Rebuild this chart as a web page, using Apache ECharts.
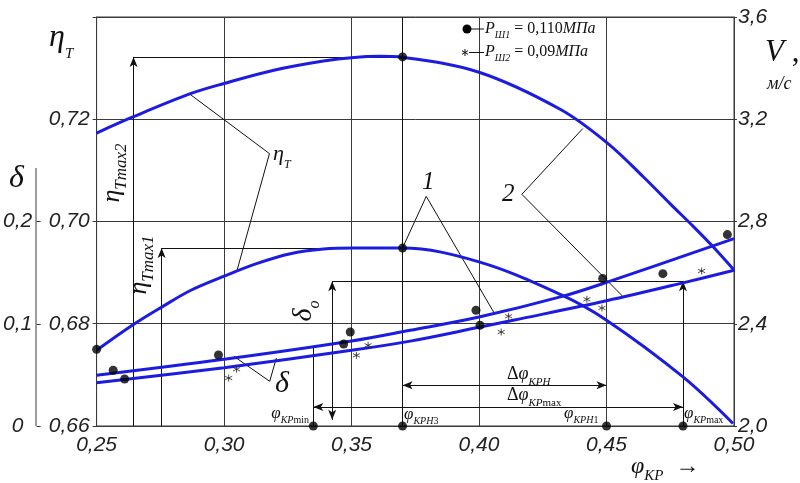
<!DOCTYPE html>
<html>
<head>
<meta charset="utf-8">
<script src="https://cdn.jsdelivr.net/npm/echarts@6/dist/echarts.min.js"></script>
<style>
  html, body { margin: 0; background: #fff; }
  #chart { width: 800px; height: 483px; }
</style>
</head>
<body>
<div id="chart"></div>
<script>
// оси
const phiMin = 0.25, phiMax = 0.50, phiStep = 0.05
const etaMin = 0.66, etaMax = 0.74, etaStep = 0.02
const vMin = 2.0, vMax = 3.6, vStep = 0.4
const dMin = 0, dMax = 0.4, dStep = 0.1
const dTicks = [0, 0.1, 0.2]

// КПД η_T (φ_KP, η)
const etaT2 = [[0.25, 0.7173], [0.264, 0.7204], [0.2868, 0.7250], [0.30, 0.7270], [0.3195, 0.7296],
  [0.339, 0.7314], [0.351, 0.7321], [0.361, 0.7323], [0.37, 0.7321], [0.40, 0.7292], [0.432, 0.7219],
  [0.4507, 0.7152], [0.4645, 0.7087], [0.4749, 0.7035], [0.4841, 0.6990], [0.4919, 0.6950], [0.50, 0.6905]]
const etaT1 = [[0.25, 0.6748], [0.264, 0.6797], [0.2757, 0.6833], [0.2868, 0.6865], [0.30, 0.6893],
  [0.313, 0.6918], [0.326, 0.6937], [0.339, 0.6946], [0.351, 0.6948], [0.361, 0.6948], [0.37, 0.6948],
  [0.40, 0.6921], [0.4325, 0.6856], [0.45, 0.6807], [0.48, 0.6696], [0.4996, 0.6605]]
// δ (φ_KP, δ)
const delta1 = [[0.25, 0.0496], [0.30, 0.0652], [0.35, 0.0831], [0.373, 0.0936], [0.40, 0.1066],
  [0.433, 0.1270], [0.45, 0.1405], [0.50, 0.1833]]
const delta2 = [[0.25, 0.0422], [0.30, 0.0570], [0.35, 0.0740], [0.373, 0.0830], [0.40, 0.0965],
  [0.4134, 0.1034], [0.45, 0.1225], [0.48, 0.1400], [0.50, 0.1523]]

// опытные точки: P_Ш1 (●) и P_Ш2 (*)
const dotsEta = [[0.25, 0.6750], [0.37, 0.7322], [0.37, 0.6948]]
const dotsDelta = [[0.2565, 0.0545], [0.2610, 0.0460], [0.2978, 0.0694], [0.3469, 0.0802],
  [0.3495, 0.0919], [0.3988, 0.1132], [0.4004, 0.0985], [0.4485, 0.1442], [0.4721, 0.1490], [0.4974, 0.1872]]
const starsDelta = [[0.3018, 0.0469], [0.3049, 0.0555], [0.3519, 0.0691], [0.3565, 0.0789],
  [0.4087, 0.0919], [0.4116, 0.1073], [0.4423, 0.1239], [0.4482, 0.1154], [0.4873, 0.1516]]

// характерные значения
const phiKPmin = 0.335, phiKPH3 = 0.37, phiKPH1 = 0.45, phiKPmax = 0.48
const etaTmax1 = 0.6948, etaTmax2 = 0.7322, delta0 = 0.1415
const dotsPhi = [[phiKPmin, 0], [phiKPH3, 0], [phiKPH1, 0], [phiKPmax, 0]]

// выноски (φ_KP, δ)
const leaderEta = [[0.2868, 0.3241], [0.3178, 0.2664], [0.3051, 0.1523]]
const leader1 = [[0.37, 0.1741], [0.3793, 0.2246], [0.4057, 0.1115]]
const leader2 = [[0.4407, 0.2909], [0.4168, 0.2266], [0.4566, 0.1262]]
const leaderDelta = [[0.3038, 0.0682], [0.3179, 0.0437], [0.3205, 0.0665]]

const toD = e => (e - etaMin) / (etaMax - etaMin) * (dMax - dMin)
const comma = d => v => v.toFixed(d).replace('.', ',')

const serif = "'Liberation Serif','DejaVu Serif',serif"
const ink = '#111'
const gridColor = '#3a3a3a'
const blue = '#1c1ce0'

const axisFont = { fontFamily: 'Liberation Sans', fontStyle: 'italic', fontSize: 21, color: '#222' }

function seg(a, b, s1, s2) {
  return [{ coord: a, symbol: s1 || 'none' }, { coord: b, symbol: s2 || 'none' }]
}

function leader(data) {
  return {
    type: 'line', yAxisIndex: 2, data: data, symbol: 'none', silent: true, z: 3,
    lineStyle: { color: ink, width: 1 }, animation: false
  }
}

function curve(name, yIdx, data) {
  return {
    name: name, type: 'line', yAxisIndex: yIdx, data: data, symbol: 'none', smooth: 0.35,
    lineStyle: { color: blue, width: 3 }, z: 5
  }
}

// подписи с индексами (rich text)
function rt(pieces, ms, ss, drop) {
  const base = { fontFamily: serif, fill: ink, verticalAlign: 'bottom' }
  const rich = {
    m: Object.assign({}, base, { fontStyle: 'italic', fontSize: ms, lineHeight: ms, padding: [0, 0, drop, 0] }),
    u: Object.assign({}, base, { fontSize: ms, lineHeight: ms, padding: [0, 0, drop, 0] }),
    s: Object.assign({}, base, { fontStyle: 'italic', fontSize: ss, lineHeight: ss }),
    t: Object.assign({}, base, { fontSize: ss, lineHeight: ss })
  }
  return { text: pieces.map(p => '{' + p[1] + '|' + p[0] + '}').join(''), rich: rich }
}
function label(x, baseline, pieces, ms, ss, drop, align) {
  const r = rt(pieces, ms, ss, drop)
  return {
    type: 'text', x: x, y: baseline + drop + 0.2 * ms, silent: true, z: 100,
    style: { text: r.text, rich: r.rich, align: align || 'left', textAlign: align || 'left',
      verticalAlign: 'bottom', textVerticalAlign: 'bottom' }
  }
}
function vlabel(cx, cy, pieces, ms, ss, drop) {
  const r = rt(pieces, ms, ss, drop)
  return {
    type: 'text', x: cx, y: cy, rotation: Math.PI / 2, silent: true, z: 100,
    style: { text: r.text, rich: r.rich, align: 'center', textAlign: 'center',
      verticalAlign: 'middle', textVerticalAlign: 'middle' }
  }
}
function stroke(x1, y1, x2, y2) {
  return { type: 'line', shape: { x1: x1, y1: y1, x2: x2, y2: y2 }, style: { stroke: ink, lineWidth: 1 }, silent: true, z: 100 }
}

const starPath = 'path://M5,0L5,10M0.67,2.5L9.33,7.5M0.67,7.5L9.33,2.5'

const chart = echarts.init(document.getElementById('chart'))
chart.setOption({
  animation: false,
  backgroundColor: '#fff',
  grid: { left: 96, right: 66, top: 17, bottom: 57, show: true, borderColor: gridColor, borderWidth: 1 },
  xAxis: {
    type: 'value', min: phiMin, max: phiMax, interval: phiStep,
    axisLine: { lineStyle: { color: gridColor } },
    axisTick: { show: false },
    axisLabel: Object.assign({ formatter: comma(2), margin: 9 }, axisFont),
    splitLine: { show: true, lineStyle: { color: gridColor, width: 1 } }
  },
  yAxis: [
    {
      type: 'value', position: 'left', min: etaMin, max: etaMax, interval: etaStep,
      axisLine: { show: true, lineStyle: { color: gridColor } },
      axisTick: { show: true, length: 4, lineStyle: { color: gridColor } },
      axisLabel: Object.assign({ formatter: v => v > etaMax - 0.001 ? '' : comma(2)(v), margin: 7 }, axisFont),
      splitLine: { show: true, lineStyle: { color: gridColor, width: 1 } }
    },
    {
      type: 'value', position: 'right', min: vMin, max: vMax, interval: vStep,
      axisLine: { show: true, lineStyle: { color: gridColor } },
      axisTick: { show: true, length: 3, lineStyle: { color: gridColor } },
      axisLabel: Object.assign({ formatter: comma(1), margin: 4 }, axisFont),
      splitLine: { show: false }
    },
    {
      type: 'value', position: 'left', offset: 60, min: dMin, max: dMax, interval: dStep,
      axisLine: { show: false },
      axisTick: { show: true, inside: true, length: 4, customValues: dTicks, lineStyle: { color: gridColor } },
      axisLabel: Object.assign({ customValues: dTicks, formatter: v => v === 0 ? '0' : comma(1)(v),
        align: 'center', margin: 19 }, axisFont),
      splitLine: { show: false }
    }
  ],
  series: [
    {
      type: 'line', yAxisIndex: 2, data: [], silent: true, z: 3,
      markLine: {
        silent: true, animation: false, symbolSize: [6, 10],
        label: { show: false },
        lineStyle: { color: ink, width: 1, type: 'solid' },
        emphasis: { disabled: true },
        data: [
          seg([phiKPH3, dMin], [phiKPH3, dMax]),
          seg([0.2645, dMin], [0.2645, toD(etaTmax2)], 'none', 'arrow'),
          seg([0.2645, toD(etaTmax2)], [phiKPH3, toD(etaTmax2)]),
          seg([0.2755, dMin], [0.2755, toD(etaTmax1)], 'none', 'arrow'),
          seg([0.2755, toD(etaTmax1)], [phiKPH3, toD(etaTmax1)]),
          seg([0.3424, 0.006], [0.3424, delta0], 'arrow', 'arrow'),
          seg([0.3424, delta0], [phiKPmax, delta0]),
          seg([phiKPmax, dMin], [phiKPmax, delta0], 'none', 'arrow'),
          seg([phiKPmin, dMin], [phiKPmin, 0.077]),
          seg([phiKPH3, 0.0398], [phiKPH1, 0.0398], 'arrow', 'arrow'),
          seg([phiKPmin, 0.0186], [phiKPmax, 0.0186], 'arrow', 'arrow')
        ]
      }
    },
    leader(leaderEta), leader(leader1), leader(leader2), leader(leaderDelta),
    curve('η_T2', 0, etaT2),
    curve('η_T1', 0, etaT1),
    curve('δ1', 2, delta1),
    curve('δ2', 2, delta2),
    {
      name: 'P_Ш1 η', type: 'scatter', yAxisIndex: 0, data: dotsEta, symbol: 'circle', symbolSize: 9,
      itemStyle: { color: '#000' }, clip: false, z: 8
    },
    {
      name: 'P_Ш1 δ', type: 'scatter', yAxisIndex: 2, data: dotsDelta.concat(dotsPhi), symbol: 'circle',
      symbolSize: 9, itemStyle: { color: '#000' }, clip: false, z: 8
    },
    {
      name: 'P_Ш2', type: 'scatter', yAxisIndex: 2, data: starsDelta, symbol: starPath, symbolSize: 7,
      itemStyle: { color: '#222', borderColor: '#222', borderWidth: 1 }, clip: false, z: 8
    }
  ],
  graphic: [
    { type: 'line', shape: { x1: 36, y1: 168, x2: 36, y2: 426 }, style: { stroke: gridColor, lineWidth: 1 }, silent: true },
    // легенда
    { type: 'circle', shape: { cx: 467, cy: 29, r: 4.5 }, style: { fill: '#000' }, silent: true, z: 100 },
    stroke(471, 29, 484, 29),
    stroke(465, 49, 465, 56), stroke(462, 50.7, 468, 54.3), stroke(462, 54.3, 468, 50.7),
    stroke(469, 52.5, 484, 52.5),
    label(485, 34, [['P', 'm'], ['Ш1', 's'], [' = 0,110', 'u'], ['МПа', 'm']], 16, 10, 3),
    label(485, 57, [['P', 'm'], ['Ш2', 's'], [' = 0,09', 'u'], ['МПа', 'm']], 16, 10, 3),
    // обозначения осей
    label(49, 47, [['η', 'm'], ['T', 's']], 32, 15, 8),
    label(9, 188, [['δ', 'm']], 32, 15, 0),
    label(765, 62, [['V', 'm'], [' ,', 'u']], 31, 15, 0),
    label(767, 90, [['м/с', 'm']], 18, 12, 0),
    label(631, 474, [['φ', 'm'], ['КР', 's'], ['  →', 'u']], 24, 15, 5),
    // подписи на поле
    label(273, 161, [['η', 'm'], ['T', 's']], 22, 12, 5),
    label(422, 190, [['1', 'm']], 25, 12, 0),
    label(502, 202, [['2', 'm']], 25, 12, 0),
    label(275, 393, [['δ', 'm']], 30, 12, 0),
    vlabel(117, 173, [['η', 'm'], ['Tmax2', 's']], 26, 17, 5),
    vlabel(144, 265, [['η', 'm'], ['Tmax1', 's']], 26, 17, 5),
    vlabel(309, 311, [['δ', 'm'], ['о', 's']], 28, 16, 5),
    label(507, 380, [['Δ', 'u'], ['φ', 'm'], ['КРН', 's']], 18, 11, 4),
    label(507, 401, [['Δ', 'u'], ['φ', 'm'], ['КР', 's'], ['max', 't']], 18, 11, 4),
    label(309, 419, [['φ', 'm'], ['КР', 's'], ['min', 't']], 17, 10, 3, 'right'),
    label(404, 420, [['φ', 'm'], ['КРН', 's'], ['3', 't']], 17, 10, 3),
    label(564, 419, [['φ', 'm'], ['КРН', 's'], ['1', 't']], 17, 10, 3),
    label(684, 419, [['φ', 'm'], ['КР', 's'], ['max', 't']], 17, 10, 3)
  ]
})
</script>
</body>
</html>
